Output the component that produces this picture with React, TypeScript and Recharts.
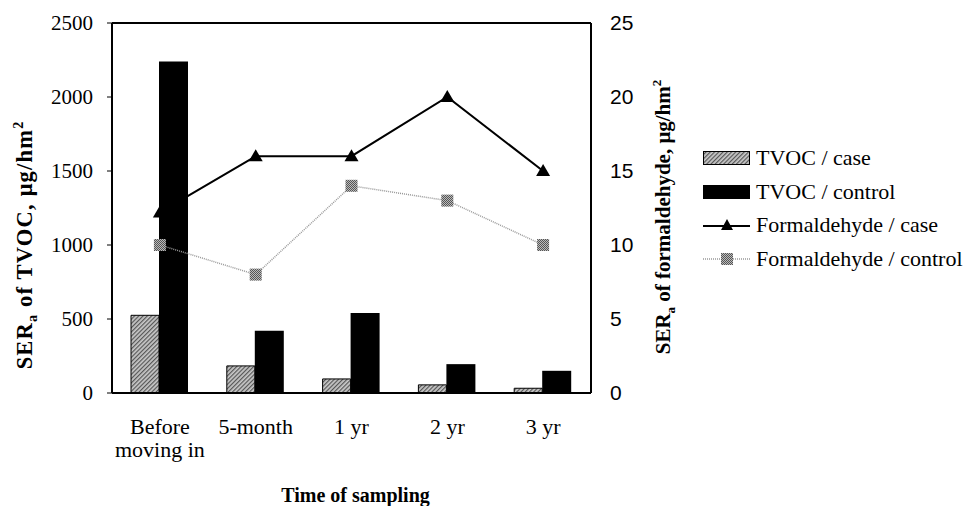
import React from "react";
import {
    Bar,
    ComposedChart,
    Line,
    ReferenceLine,
    XAxis,
    YAxis,
} from "recharts";

const CATEGORIES = ["Before moving in", "5-month", "1 yr", "2 yr", "3 yr"];
const TVOC_CASE = [525, 183, 95, 55, 32];
const TVOC_CONTROL = [2240, 420, 540, 195, 150];
const FORM_CASE = [12.2, 16, 16, 20, 15];
const FORM_CONTROL = [10, 8, 14, 13, 10];
const LEFT_TICKS = [0, 500, 1000, 1500, 2000, 2500];
const RIGHT_TICKS = [0, 5, 10, 15, 20, 25];

const SERIF = "'Liberation Serif', 'Times New Roman', serif";
const SANS = "'Liberation Sans', Arial, sans-serif";

const data = CATEGORIES.map((label, i) => ({
    label,
    tvocCase: TVOC_CASE[i],
    tvocControl: TVOC_CONTROL[i],
    formCase: FORM_CASE[i],
    formControl: FORM_CONTROL[i],
}));

function Triangle({ cx, cy }: any) {
    if (cx == null || cy == null) return null;
    return <path d={`M${cx},${cy - 7} L${cx + 7},${cy + 5} L${cx - 7},${cy + 5} Z`} fill="#000" />;
}

function Square({ cx, cy }: any) {
    if (cx == null || cy == null) return null;
    return <rect x={cx - 6} y={cy - 6} width={12} height={12} fill="url(#checker)" />;
}

function CategoryTick({ x, y, payload }: any) {
    const lines = payload.value === "Before moving in" ? ["Before", "moving in"] : [payload.value];
    return (
        <text x={x} y={y} textAnchor="middle" fontFamily={SERIF} fontSize={22} fill="#000">
            {lines.map((l, i) => (
                <tspan key={l} x={x} dy={i === 0 ? 33 : 23}>{l}</tspan>
            ))}
        </text>
    );
}

function LeftLabel() {
    return (
        <text x={0} y={0} transform="translate(32,245) rotate(-90)" textAnchor="middle" fontFamily={SERIF} fontSize={22.5} fontWeight="bold" letterSpacing={1.2} fill="#000">
            SER<tspan dy={5} fontSize={14}>a</tspan>
            <tspan dy={-5}> of TVOC, μg/hm</tspan>
            <tspan dy={-9} fontSize={14}>2</tspan>
        </text>
    );
}

function RightLabel() {
    return (
        <text x={0} y={0} transform="translate(670,217) rotate(-90)" textAnchor="middle" fontFamily={SERIF} fontSize={21} fontWeight="bold" fill="#000">
            SER<tspan dy={5} fontSize={13}>a</tspan>
            <tspan dy={-5}> of formaldehyde, μg/hm</tspan>
            <tspan dy={-9} fontSize={13}>2</tspan>
        </text>
    );
}

const LEGEND = [
    { name: "TVOC / case", kind: "hatch" },
    { name: "TVOC / control", kind: "solid" },
    { name: "Formaldehyde / case", kind: "tri" },
    { name: "Formaldehyde / control", kind: "sq" },
];

function LegendSwatch({ kind }: { kind: string }) {
    return (
        <svg width={48} height={16} style={{ display: "block" }}>
            <defs>
                <pattern id="lg-hatch" width="3" height="3" patternUnits="userSpaceOnUse" patternTransform="rotate(45)">
                    <rect width="3" height="3" fill="#c8c8c8" />
                    <rect width="1.2" height="3" fill="#555" />
                </pattern>
                <pattern id="lg-checker" width="2" height="2" patternUnits="userSpaceOnUse">
                    <rect width="2" height="2" fill="#bbb" />
                    <rect width="1" height="1" fill="#555" />
                    <rect x="1" y="1" width="1" height="1" fill="#555" />
                </pattern>
            </defs>
            {kind === "hatch" && <rect x={0.5} y={1.5} width={46} height={13} fill="url(#lg-hatch)" stroke="#000" />}
            {kind === "solid" && <rect x={0} y={1} width={47} height={14} fill="#000" />}
            {kind === "tri" && (
                <g>
                    <line x1={0} y1={9} x2={47} y2={9} stroke="#000" strokeWidth={2} />
                    <path d="M24,2 L30,13 L18,13 Z" fill="#000" />
                </g>
            )}
            {kind === "sq" && (
                <g>
                    <line x1={0} y1={8} x2={47} y2={8} stroke="#999" strokeWidth={1.5} strokeDasharray="1 1" />
                    <rect x={18} y={2} width={12} height={12} fill="url(#lg-checker)" />
                </g>
            )}
        </svg>
    );
}

export default function App() {
    return (
        <div style={{ position: "absolute", left: 0, top: 0, width: 968, height: 506, background: "#fff" }}>
            <ComposedChart
                width={968}
                height={506}
                data={data}
                margin={{ top: 23, right: 277, left: 12, bottom: 0 }}
                barGap={0}
                barCategoryGap={19}
            >
                <defs>
                    <pattern id="hatch" width="3" height="3" patternUnits="userSpaceOnUse" patternTransform="rotate(45)">
                        <rect width="3" height="3" fill="#c8c8c8" />
                        <rect width="1.2" height="3" fill="#555" />
                    </pattern>
                    <pattern id="checker" width="2" height="2" patternUnits="userSpaceOnUse">
                        <rect width="2" height="2" fill="#bbb" />
                        <rect width="1" height="1" fill="#555" />
                        <rect x="1" y="1" width="1" height="1" fill="#555" />
                    </pattern>
                </defs>
                <XAxis
                    dataKey="label"
                    height={113}
                    axisLine={{ stroke: "#000", strokeWidth: 2 }}
                    tickLine={false}
                    tick={<CategoryTick />}
                    interval={0}
                    label={{
                        value: "Time of sampling",
                        position: "insideBottom",
                        offset: 4,
                        dx: 4,
                        fill: "#000",
                        fontFamily: SERIF,
                        fontSize: 20,
                        fontWeight: "bold",
                    }}
                />
                <YAxis
                    yAxisId="left"
                    width={100}
                    domain={[0, 2500]}
                    ticks={LEFT_TICKS}
                    interval={0}
                    axisLine={{ stroke: "#000", strokeWidth: 2 }}
                    tickLine={{ stroke: "#000" }}
                    tickSize={5}
                    tickMargin={14}
                    tick={{ fill: "#000", fontFamily: SERIF, fontSize: 21 }}
                    label={<LeftLabel />}
                />
                <YAxis
                    yAxisId="right"
                    orientation="right"
                    width={100}
                    domain={[0, 25]}
                    ticks={RIGHT_TICKS}
                    interval={0}
                    axisLine={{ stroke: "#000", strokeWidth: 2 }}
                    tickLine={false}
                    tickSize={4}
                    tickMargin={15}
                    tick={{ fill: "#000", fontFamily: SANS, fontSize: 21 }}
                    label={<RightLabel />}
                />
                <ReferenceLine yAxisId="left" y={2500} stroke="#000" strokeWidth={2} />
                <Bar yAxisId="left" dataKey="tvocCase" barSize={28} fill="url(#hatch)" stroke="#000" strokeWidth={1} isAnimationActive={false} />
                <Bar yAxisId="left" dataKey="tvocControl" barSize={29} fill="#000" isAnimationActive={false} />
                <Line
                    yAxisId="right"
                    dataKey="formControl"
                    stroke="#999"
                    strokeWidth={1.5}
                    strokeDasharray="1 1"
                    dot={<Square />}
                    activeDot={false}
                    isAnimationActive={false}
                />
                <Line
                    yAxisId="right"
                    dataKey="formCase"
                    stroke="#000"
                    strokeWidth={2}
                    dot={<Triangle />}
                    activeDot={false}
                    isAnimationActive={false}
                />
            </ComposedChart>
            <div style={{ position: "absolute", left: 703, top: 141, fontFamily: SERIF, fontSize: 22, color: "#000" }}>
                {LEGEND.map((item) => (
                    <div key={item.name} style={{ display: "flex", alignItems: "center", height: 33.7, gap: 5 }}>
                        <LegendSwatch kind={item.kind} />
                        <span style={{ whiteSpace: "nowrap", fontFamily: SERIF }}>{item.name}</span>
                    </div>
                ))}
            </div>
        </div>
    );
}
